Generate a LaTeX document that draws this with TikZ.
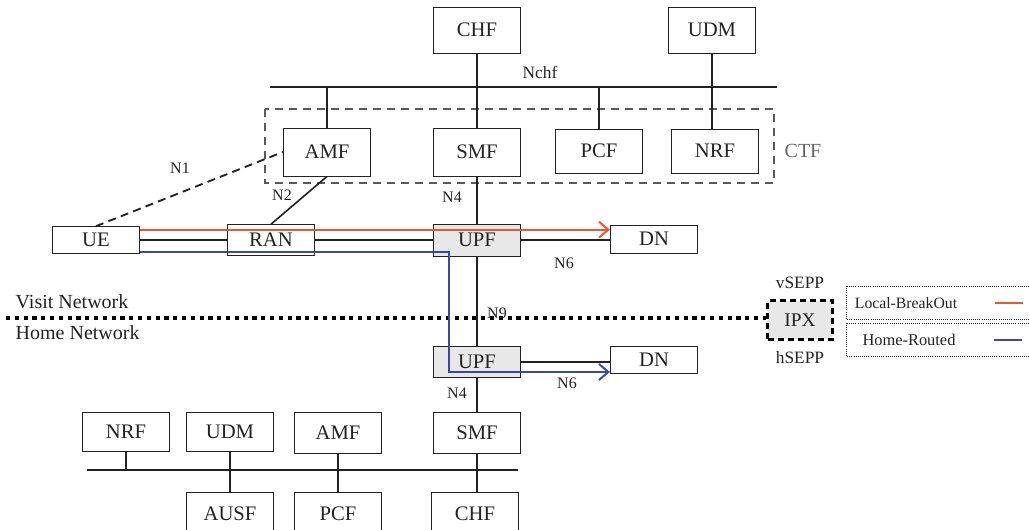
\documentclass[tikz,border=0pt]{standalone}
\usepackage{fontspec}
\setmainfont{Liberation Serif}
\usepackage{xcolor}
\usepackage{tikz}
\usetikzlibrary{arrows.meta,positioning,calc}
\definecolor{cnred}{HTML}{EE5533}
\definecolor{cnblue}{HTML}{3B47A6}
\definecolor{cnfill}{HTML}{E8E8E8}
\definecolor{cndash}{HTML}{595959}
\definecolor{cngris}{HTML}{666666}
\definecolor{cntext}{HTML}{222222}

\begin{document}
\begin{tikzpicture}[x=0.75pt,y=-0.75pt,
  nf/.style={draw=cntext,line width=0.7pt,inner sep=0pt,minimum width=65.5pt,minimum height=#1,text=cntext,font=\fontsize{15.5}{18}\selectfont},
  nf/.default=34.5pt,
  upf/.style={nf=#1,fill=cnfill},
  lbl/.style={text=cntext,font=\fontsize{12}{14}\selectfont},
  bus/.style={cntext,line width=1.5pt},
  tap/.style={cntext,line width=1.2pt},
  lbo/.style={cnred,line width=1.5pt},
  hr/.style={cnblue,line width=1.5pt},
  tip/.style={-{Straight Barb[length=7pt,width=12pt]}}]
  \useasboundingbox (0,0) rectangle (1029,530);
  % bus du haut
  \node[nf] (chfT) at (477,30) {CHF};
  \node[nf] (udmT) at (712,30) {UDM};
  \coordinate (busTL) at (270,87);
  \coordinate (busTR) at (777,87);
  \draw[bus] (busTL) -- (busTR);
  \node[lbl,font=\fontsize{13}{15}\selectfont] (nchf) at (540,72) {Nchf};
  % CTF
  \draw[cndash,line width=1.6pt,dash pattern=on 6pt off 4.5pt] (265,109) rectangle (774,183);
  \node[text=cngris,font=\fontsize{15}{17}\selectfont] (ctf) at (803,151) {CTF};
  \node[nf=36pt] (amfV) at (327,152) {AMF};
  \node[nf=36pt] (smfV) at (477,152) {SMF};
  \node[nf=33pt] (pcfV) at (599,151) {PCF};
  \node[nf=33pt] (nrfV) at (715,151) {NRF};
  \draw[tap] (chfT) -- (smfV);
  \draw[tap] (udmT.south) -- (udmT.south |- nrfV.north);
  \draw[tap] (amfV.north) -- (amfV.north |- busTL);
  \draw[tap] (pcfV.north) -- (pcfV.north |- busTL);
  % acces visite
  \node[nf=20pt] (ue) at (96,240) {UE};
  \node[nf=23pt] (ran) at (271,240) {RAN};
  \node[upf=24pt] (upfV) at (477,240) {UPF};
  \node[nf=21pt] (dnV) at (654,239) {DN};
  \draw[tap] (ue) -- (ran);
  \draw[tap] (ran) -- (upfV);
  \draw[tap] (upfV.east) -- (upfV.east -| dnV.west);
  \draw[cntext,line width=1.4pt,dash pattern=on 6pt off 4pt] (ue.north) -- (amfV.west);
  \draw[tap] (ran.north) -- (amfV.south);
  \draw[tap] (smfV) -- (upfV);
  \node[lbl] (n1) at (180,168) {N1};
  \node[lbl] (n2) at (282,195) {N2};
  \node[lbl] (n4V) at (452,197) {N4};
  \node[lbl] (n6V) at (564,263) {N6};
  % frontiere visite / home
  \node[nf=29pt,minimum width=48.5pt,draw=black,line width=2pt,dash pattern=on 4.5pt off 3pt,fill=cnfill,font=\fontsize{14.5}{17}\selectfont] (ipx) at (800,320) {IPX};
  \coordinate (edgeL) at (6,318);
  \draw[black,line width=3.2pt,dash pattern=on 3.2pt off 3.4pt] (edgeL) -- (edgeL -| ipx.west);
  \node[lbl,font=\fontsize{15}{17}\selectfont,anchor=west] (visit) at (11,302) {Visit Network};
  \node[lbl,font=\fontsize{15}{17}\selectfont,anchor=west] (home) at (11,333) {Home Network};
  \node[lbl,font=\fontsize{13}{15}\selectfont] (vsepp) at (800,283) {vSEPP};
  \node[lbl,font=\fontsize{13}{15}\selectfont] (hsepp) at (800,358) {hSEPP};
  \node[lbl] (n9) at (497,313) {N9};
  % home
  \node[upf=23pt] (upfH) at (477,362) {UPF};
  \node[nf=20pt] (dnH) at (654,360) {DN};
  \draw[tap] (upfV) -- (upfH);
  \draw[tap] (upfH.east) -- (upfH.east -| dnH.west);
  \node[lbl] (n6H) at (567,383) {N6};
  \node[lbl] (n4H) at (457,393) {N4};
  % bus du bas
  \node[nf=29pt] (nrfH) at (126,432) {NRF};
  \node[nf=29pt] (udmH) at (230,432) {UDM};
  \node[nf=30.5pt] (amfH) at (338,433) {AMF};
  \node[nf=30.5pt] (smfH) at (477,433) {SMF};
  \node[nf=33pt] (ausfH) at (230,514) {AUSF};
  \node[nf=33pt] (pcfH) at (338,514) {PCF};
  \node[nf=33pt] (chfH) at (475,514) {CHF};
  \coordinate (busBL) at (87,470);
  \coordinate (busBR) at (518,470);
  \draw[bus] (busBL) -- (busBR);
  \draw[tap] (upfH) -- (smfH);
  \draw[tap] (nrfH.south) -- (nrfH.south |- busBL);
  \draw[tap] (udmH) -- (ausfH);
  \draw[bus] (amfH) -- (pcfH);
  \draw[tap] (smfH.south) -- (smfH.south |- chfH.north);
  % flux : local-breakout / home-routed
  \coordinate (lboA) at ($(ue.north east)+(0,3.5)$);
  \draw[lbo,tip] (lboA) -- (lboA -| dnV.west);
  \coordinate (hrA) at ($(ue.south east)+(0,-2)$);
  \coordinate (hrB) at (449,372);
  \draw[hr,tip] (hrA) -| (hrB) -- (hrB -| dnH.west);
  % legende
  \draw[cntext,densely dotted,line width=0.6pt] (846,286) rectangle (1040,319);
  \draw[cntext,densely dotted,line width=0.6pt] (846,323) rectangle (1040,356);
  \node[lbl,font=\fontsize{11.8}{14}\selectfont] (keyLBO) at (906,303) {Local-BreakOut};
  \node[lbl,font=\fontsize{12.3}{14}\selectfont] (keyHR) at (909,340) {Home-Routed};
  \coordinate (keyA) at (995,303);
  \coordinate (keyB) at (994,340);
  \draw[lbo] (keyA) -- ++(28,0);
  \draw[hr] (keyB) -- ++(28,0);
\end{tikzpicture}
\end{document}
